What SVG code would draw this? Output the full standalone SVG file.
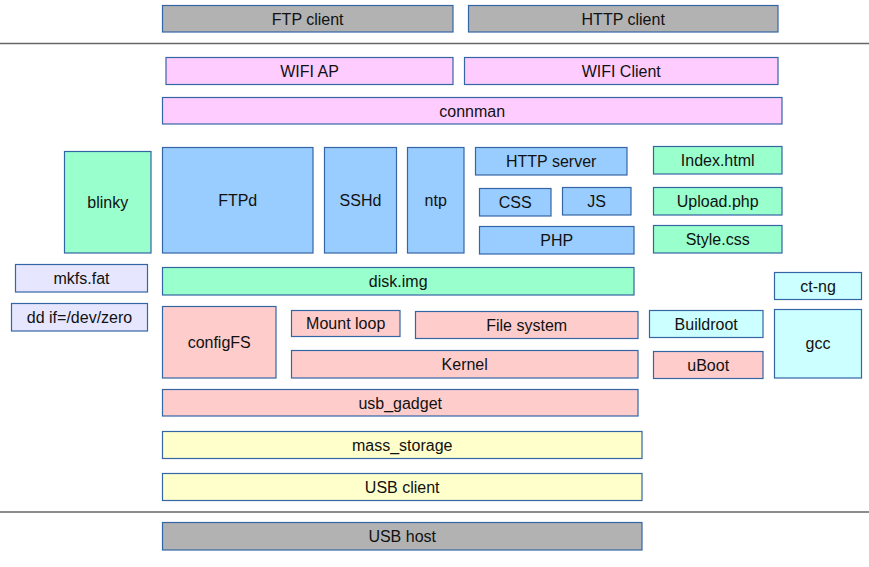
<svg xmlns="http://www.w3.org/2000/svg" width="869" height="567" viewBox="0 0 869 567">
<style>
.n rect{stroke:#3465a4;stroke-width:1.2}
text{font-family:"Liberation Sans",Arial,sans-serif;font-size:16px;fill:#111;text-anchor:middle;dominant-baseline:central}
.gy{fill:#b2b2b2}.pk{fill:#ffccff}.bl{fill:#99ccff}.gn{fill:#99ffcc}.lv{fill:#e6e6ff}.sa{fill:#ffcccc}.cy{fill:#ccffff}.ye{fill:#ffffcc}
.sep{stroke:#666;stroke-width:1.6}
</style>
<rect x="0" y="0" width="869" height="567" style="fill:#fff;stroke:none"/>
<g id="separators">
<line class="sep" x1="0" y1="43.5" x2="869" y2="43.5"/>
<line class="sep" x1="0" y1="512" x2="869" y2="512"/>
</g>
<g id="connectors"/>
<g class="n" id="ftp-client"><rect class="gy" x="162.5" y="5.5" width="290.5" height="26.5"/><text x="307.7" y="19">FTP client</text></g>
<g class="n" id="http-client"><rect class="gy" x="468.5" y="5.5" width="309.5" height="26.5"/><text x="623.2" y="19">HTTP client</text></g>
<g class="n" id="wifi-ap"><rect class="pk" x="166" y="57.5" width="287" height="27"/><text x="309.5" y="71.5">WIFI AP</text></g>
<g class="n" id="wifi-client"><rect class="pk" x="464.5" y="57.5" width="313.5" height="27"/><text x="621.2" y="71.5">WIFI Client</text></g>
<g class="n" id="connman"><rect class="pk" x="162.5" y="97.5" width="619.5" height="26.5"/><text x="472.2" y="111">connman</text></g>
<g class="n" id="blinky"><rect class="gn" x="64.5" y="151.5" width="86.5" height="101.5"/><text x="107.7" y="202.5">blinky</text></g>
<g class="n" id="ftpd"><rect class="bl" x="162.5" y="147.5" width="150.5" height="105.5"/><text x="237.7" y="200.5">FTPd</text></g>
<g class="n" id="sshd"><rect class="bl" x="324.5" y="147.5" width="72" height="105.5"/><text x="360.5" y="200.5">SSHd</text></g>
<g class="n" id="ntp"><rect class="bl" x="407.5" y="147.5" width="56.5" height="105.5"/><text x="435.7" y="200.5">ntp</text></g>
<g class="n" id="http-server"><rect class="bl" x="475.5" y="147.5" width="151.5" height="27.5"/><text x="551.2" y="161">HTTP server</text></g>
<g class="n" id="css"><rect class="bl" x="479.5" y="188.5" width="71.5" height="27.5"/><text x="515.2" y="202.5">CSS</text></g>
<g class="n" id="js"><rect class="bl" x="562.5" y="187.5" width="68.5" height="27.5"/><text x="596.7" y="201.5">JS</text></g>
<g class="n" id="php"><rect class="bl" x="479.5" y="226.5" width="154.5" height="27.5"/><text x="556.7" y="240.5">PHP</text></g>
<g class="n" id="index-html"><rect class="gn" x="653.5" y="146.5" width="128.5" height="27.5"/><text x="717.7" y="160">Index.html</text></g>
<g class="n" id="upload-php"><rect class="gn" x="653.5" y="187.5" width="128.5" height="27.5"/><text x="717.7" y="201.5">Upload.php</text></g>
<g class="n" id="style-css"><rect class="gn" x="653.5" y="225.5" width="128.5" height="27.5"/><text x="717.7" y="239.5">Style.css</text></g>
<g class="n" id="mkfs-fat"><rect class="lv" x="15.5" y="264.5" width="132" height="27.5"/><text x="81.5" y="278">mkfs.fat</text></g>
<g class="n" id="dd"><rect class="lv" x="11.5" y="303.5" width="136" height="27.5"/><text x="79.5" y="317">dd if=/dev/zero</text></g>
<g class="n" id="disk-img"><rect class="gn" x="162.5" y="267.5" width="471.5" height="27.5"/><text x="398.2" y="281.5">disk.img</text></g>
<g class="n" id="configfs"><rect class="sa" x="162.5" y="306.5" width="113.5" height="71.5"/><text x="219.2" y="342">configFS</text></g>
<g class="n" id="mount-loop"><rect class="sa" x="291.5" y="310.5" width="108.5" height="26"/><text x="345.7" y="323.5">Mount loop</text></g>
<g class="n" id="file-system"><rect class="sa" x="415.5" y="311.5" width="222.5" height="27"/><text x="526.7" y="325">File system</text></g>
<g class="n" id="kernel"><rect class="sa" x="291.5" y="350.5" width="346.5" height="27.5"/><text x="464.7" y="364.5">Kernel</text></g>
<g class="n" id="usb-gadget"><rect class="sa" x="162.5" y="389.5" width="475.5" height="26.5"/><text x="400.2" y="403">usb_gadget</text></g>
<g class="n" id="buildroot"><rect class="cy" x="649.5" y="310.5" width="113.5" height="27"/><text x="706.2" y="324">Buildroot</text></g>
<g class="n" id="uboot"><rect class="sa" x="653.5" y="351.5" width="109.5" height="27"/><text x="708.2" y="365">uBoot</text></g>
<g class="n" id="ct-ng"><rect class="cy" x="774.5" y="272.5" width="87" height="27"/><text x="818" y="286">ct-ng</text></g>
<g class="n" id="gcc"><rect class="cy" x="774.5" y="309.5" width="87" height="68.5"/><text x="818" y="343.5">gcc</text></g>
<g class="n" id="mass-storage"><rect class="ye" x="162.5" y="431.5" width="479.5" height="27"/><text x="402.2" y="445">mass_storage</text></g>
<g class="n" id="usb-client"><rect class="ye" x="162.5" y="473.5" width="479.5" height="27"/><text x="402.2" y="487.5">USB client</text></g>
<g class="n" id="usb-host"><rect class="gy" x="162.5" y="522.5" width="479.5" height="27.5"/><text x="402.2" y="536.5">USB host</text></g>
</svg>
